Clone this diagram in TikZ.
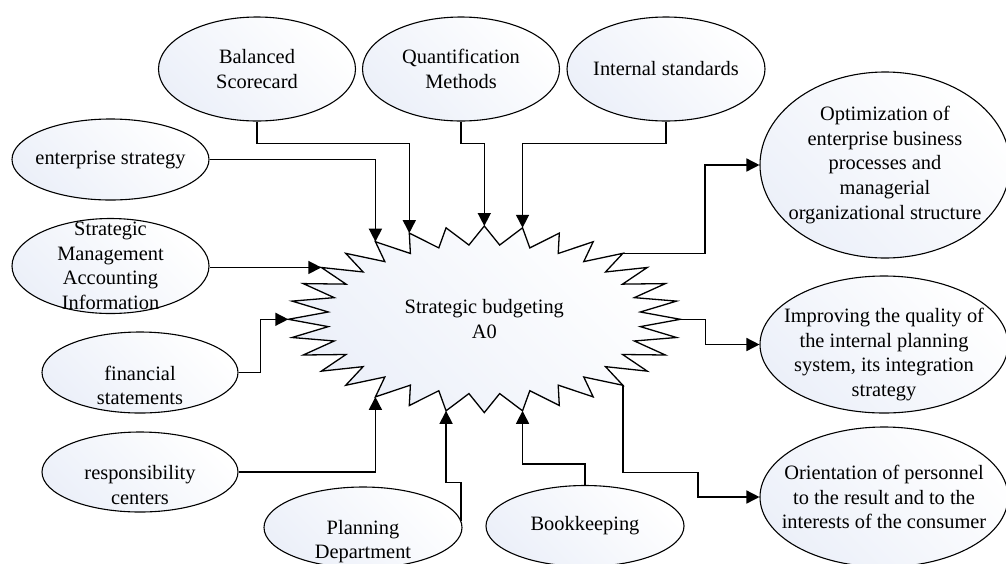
\documentclass[tikz,border=0pt]{standalone}
\usepackage{fontspec}
\setmainfont{Liberation Serif}
\usetikzlibrary{arrows.meta}
\usetikzlibrary{calc}
\usetikzlibrary{shapes.geometric}

\definecolor{ellshade}{RGB}{236,240,249}
% invisible strut that pushes the lines of a node down
\newcommand{\dropby}[1]{\rule{0pt}{\dimexpr 7pt+#1\relax}}

\begin{document}
\begin{tikzpicture}[x=0.5pt, y=-0.5pt,
    ell/.style={ellipse, draw, line width=0.55pt, inner sep=-3cm, align=center,
      font=\fontsize{10.2}{12.3}\selectfont,
      top color=white, bottom color=ellshade, shading angle=-45},
    burst/.style={draw, line width=0.65pt, line join=miter,
      top color=white, bottom color=ellshade, shading angle=-45},
    arr/.style={-{Triangle[length=6.5pt, width=6.5pt]}, line width=0.75pt}]
      \useasboundingbox (0,0) rectangle (1006,563);

      % inputs and controls
      \node[ell, minimum width=98.5pt, minimum height=52pt] (bal) at (257,69) {Balanced\\Scorecard};
      \node[ell, minimum width=98.5pt, minimum height=52pt] (quant) at (461,69) {Quantification\\Methods};
      \node[ell, minimum width=99pt, minimum height=52pt] (intstd) at (666,69) {Internal standards};
      \node[ell, minimum width=98.5pt, minimum height=40.5pt] (entstr) at (110.5,159.5) {enterprise strategy};
      \node[ell, minimum width=98.5pt, minimum height=47.5pt] (sma) at (110.5,266) {Strategic\\Management\\Accounting\\Information};
      \node[ell, minimum width=98pt, minimum height=40.5pt] (fin) at (140,372.5) {\dropby{13pt}financial\\statements};
      \node[ell, minimum width=98pt, minimum height=40pt] (resp) at (140,472) {\dropby{13pt}responsibility\\centers};
      \node[ell, minimum width=99pt, minimum height=40.5pt] (plan) at (363,527.5) {\dropby{14pt}Planning\\Department};
      \node[ell, minimum width=99pt, minimum height=40.5pt] (book) at (585,526) {Bookkeeping};

      % outputs
      \node[ell, minimum width=125pt, minimum height=93pt] (opt) at (885,165) {Optimization of\\enterprise business\\processes and\\managerial\\organizational structure};
      \node[ell, minimum width=124pt, minimum height=68.5pt] (impr) at (884,344.5) {\dropby{10pt}Improving the quality of\\the internal planning\\system, its integration\\strategy};
      \node[ell, minimum width=124pt, minimum height=70pt] (orient) at (884,497) {Orientation of personnel\\to the result and to the\\interests of the consumer};

      % the A0 block
      \coordinate (ctr) at (484.3,319.3);
      \draw[burst, shift={(ctr)}] plot[samples at={0,...,63}, variable=\k]
        ({196*(1-0.2*mod(\k,2))*cos(5.625*\k)}, {93.3*(1-0.2*mod(\k,2))*sin(5.625*\k)}) -- cycle;
      \node[align=center, font=\fontsize{10.2}{12.5}\selectfont] (a0) at (ctr) {Strategic budgeting\\A0};

      \coordinate (tE) at ($(ctr)+(-123.75:196 and 93.3)$);
      \coordinate (tB) at ($(ctr)+(-112.5:196 and 93.3)$);
      \coordinate (tQ) at ($(ctr)+(-90:196 and 93.3)$);
      \coordinate (tI) at ($(ctr)+(-78.75:196 and 93.3)$);
      \coordinate (tS) at ($(ctr)+(-146.25:196 and 93.3)$);
      \coordinate (tF) at ($(ctr)+(180:196 and 93.3)$);
      \coordinate (tR) at ($(ctr)+(123.75:196 and 93.3)$);
      \coordinate (tPl) at ($(ctr)+(101.25:196 and 93.3)$);
      \coordinate (tBk) at ($(ctr)+(78.75:196 and 93.3)$);
      \coordinate (tOpt) at ($(ctr)+(-45:196 and 93.3)$);
      \coordinate (tImp) at ($(ctr)+(0:196 and 93.3)$);
      \coordinate (tOri) at ($(ctr)+(45:196 and 93.3)$);

      \draw[arr] (bal.south) -- ++(0,22) -| (tB);
      \draw[arr] (quant.south) -- ++(0,22) -| (tQ);
      \draw[arr] (intstd.south) -- ++(0,22) -| (tI);
      \draw[arr] (entstr.east) -| (tE);
      \draw[arr] (sma.east |- tS) -- (tS);
      \draw[arr] (fin.east) -- ++(22,0) |- (tF);
      \draw[arr] (resp.east) -| (tR);
      \draw[arr] (plan.4) -- ++(0,-38) -| (tPl);
      \draw[arr] (book.north) -- ++(0,-21) -| (tBk);

      \draw[arr] (tOpt) -- ++(82,0) |- (opt.west);
      \draw[arr] (tImp) -- ++(25,0) |- (impr.west);
      \draw[arr] (tOri) -- ++(0,87) -- ++(75,0) |- (orient.west);
    \end{tikzpicture}
\end{document}
